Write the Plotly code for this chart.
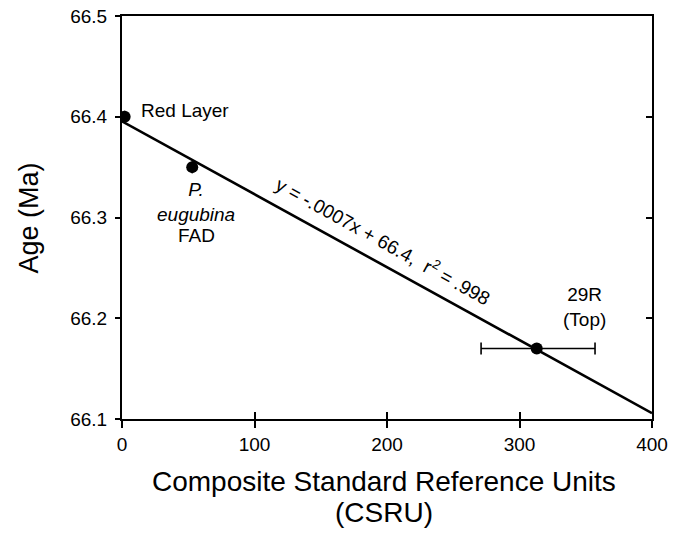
import numpy as np
import plotly.graph_objects as go

# Dated horizons: position in composite standard (CSRU) and age (Ma)
horizons = ["Red Layer", "P. eugubina FAD", "29R (Top)"]
csru = [2, 53, 313]
age_ma = [66.40, 66.35, 66.17]
csru_err_minus = [0, 0, 42]
csru_err_plus = [0, 0, 44]

x_range = [0, 400]
y_range = [66.1, 66.5]
x_ticks = [0, 100, 200, 300, 400]
y_ticks = [66.1, 66.2, 66.3, 66.4, 66.5]

x_title = ["Composite Standard Reference Units", "(CSRU)"]
y_title = "Age (Ma)"

# Least-squares line through the dated horizons
slope, intercept = np.polyfit(csru, age_ma, 1)
fit_x = np.array(x_range, dtype=float)
fit_y = slope * fit_x + intercept

FONT = "Liberation Sans, Arial, Helvetica, sans-serif"

fig = go.Figure()

fig.add_trace(go.Scatter(
    x=fit_x, y=fit_y, mode="lines",
    line=dict(color="black", width=2.6),
    hoverinfo="skip", showlegend=False,
))

fig.add_trace(go.Scatter(
    x=csru, y=age_ma, mode="markers",
    marker=dict(color="black", size=12),
    error_x=dict(type="data", symmetric=False,
                 array=csru_err_plus, arrayminus=csru_err_minus,
                 color="black", thickness=1.6, width=6),
    text=horizons, showlegend=False,
))

# Invisible trace to carry the mirrored tick axes
fig.add_trace(go.Scatter(
    x=[x_range[0]], y=[y_range[0]], xaxis="x2", yaxis="y2",
    mode="markers", marker=dict(opacity=0), showlegend=False, hoverinfo="skip",
))

label_font = dict(family=FONT, size=19, color="black")
italic_font = dict(family=FONT, size=19, color="black", style="italic")
title_font = dict(family=FONT, size=28, color="black")

fig.add_annotation(x=csru[0], y=age_ma[0], text="Red Layer", showarrow=False,
                   xanchor="left", yanchor="middle", xshift=14, yshift=6, font=label_font)
fig.add_annotation(x=csru[1], y=age_ma[1], text="P.<br>eugubina", showarrow=False,
                   xanchor="center", yanchor="top", xshift=4, yshift=-10, font=italic_font)
fig.add_annotation(x=csru[1], y=age_ma[1], text="FAD", showarrow=False,
                   xanchor="center", yanchor="top", xshift=4, yshift=-56, font=label_font)
fig.add_annotation(x=csru[2], y=age_ma[2], text="29R<br>(Top)", showarrow=False,
                   xanchor="center", yanchor="bottom", xshift=48, yshift=16, font=label_font)
fig.add_annotation(x=197, y=66.278,
                   text=f"y = -.{abs(slope)*1e4:04.0f}x + {intercept:.1f},  r<sup>2</sup> = .998",
                   showarrow=False, textangle=29, font=label_font)

# Axis titles
fig.add_annotation(xref="paper", yref="paper", x=0.495, y=-0.156, text=x_title[0],
                   showarrow=False, xanchor="center", yanchor="middle", font=title_font)
fig.add_annotation(xref="paper", yref="paper", x=0.495, y=-0.231, text=x_title[1],
                   showarrow=False, xanchor="center", yanchor="middle", font=title_font)
fig.add_annotation(xref="paper", yref="paper", x=-0.1755, y=0.5, text=y_title,
                   showarrow=False, xanchor="center", yanchor="middle", textangle=-90,
                   font=dict(family=FONT, size=27, color="black"))

axis_common = dict(color="black", linecolor="black", linewidth=2,
                   showgrid=False, zeroline=False, automargin=False,
                   tickfont=dict(family=FONT, size=19, color="black"))

fig.update_layout(
    width=679, height=533,
    margin=dict(l=122, r=27, t=16, b=114, autoexpand=False),
    paper_bgcolor="white", plot_bgcolor="white",
    font=dict(family=FONT, color="black"),
    xaxis=dict(range=x_range, tickvals=x_ticks, ticks="outside", ticklen=7,
               tickwidth=2, tickcolor="black", showline=True, mirror=True,
               **axis_common),
    xaxis2=dict(range=x_range, tickvals=x_ticks, ticks="inside", ticklen=7,
                tickwidth=2, tickcolor="black", showline=False, showticklabels=False,
                overlaying="x", side="bottom", anchor="y",
                showgrid=False, zeroline=False),
    yaxis=dict(range=y_range, tickvals=y_ticks, tickformat=".1f", ticks="outside",
               ticklen=5, tickwidth=2, tickcolor="black", showline=True, mirror=True,
               ticklabelstandoff=4,
               **axis_common),
    yaxis2=dict(range=y_range, tickvals=y_ticks, ticks="inside", ticklen=6,
                tickwidth=2, tickcolor="black", showline=False, showticklabels=False,
                overlaying="y", side="right", anchor="x",
                showgrid=False, zeroline=False),
)

fig.write_html("out.html")
